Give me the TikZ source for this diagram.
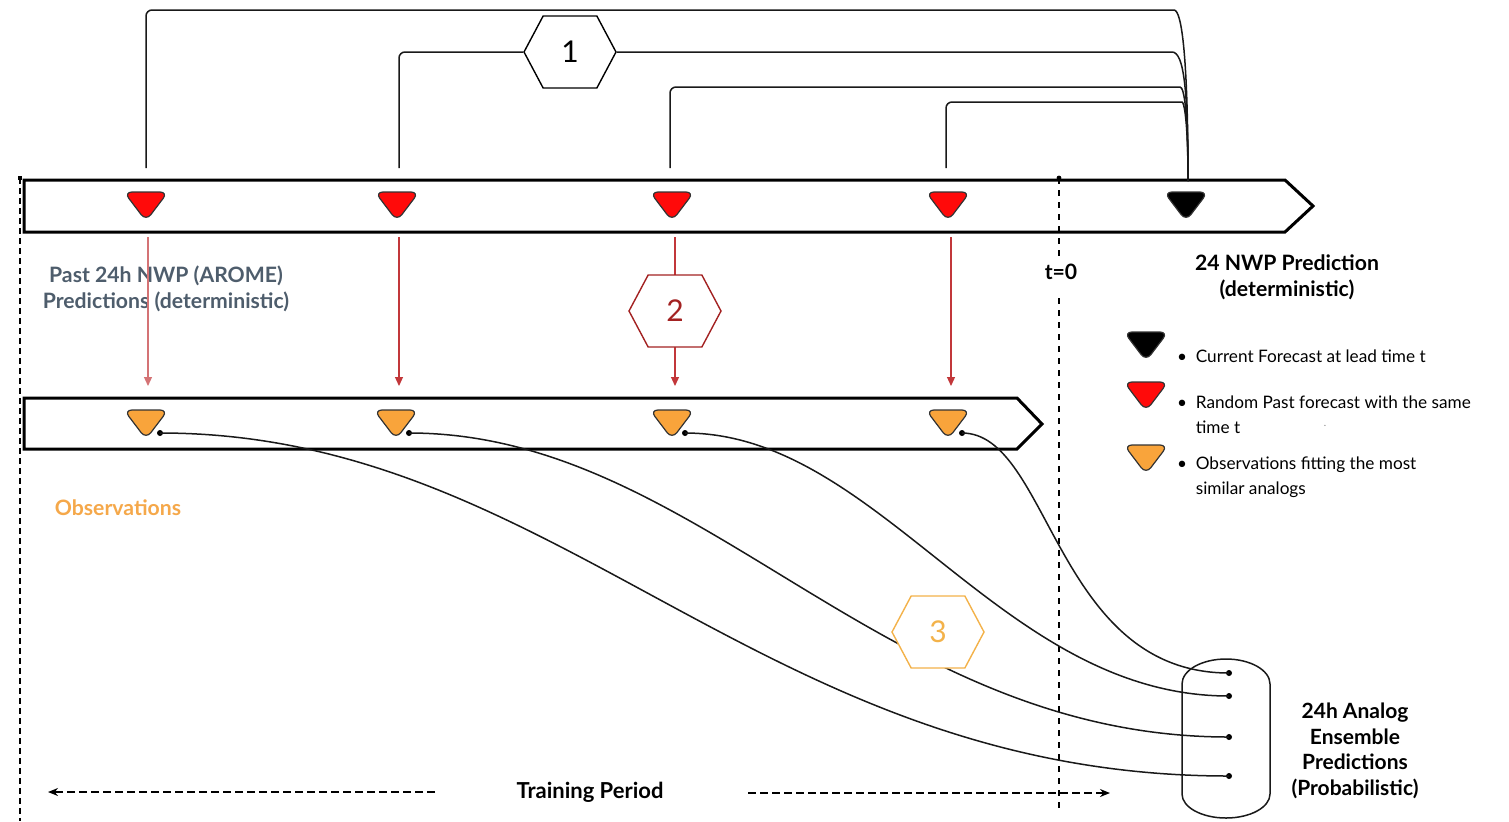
\documentclass[tikz,border=0pt]{standalone}
\usepackage{fontspec}
\setmainfont{Lato}
\usetikzlibrary{shapes.symbols,arrows.meta}
\definecolor{mred}{HTML}{FF0A0A}
\definecolor{morange}{HTML}{F9A43B}
\definecolor{arrred}{HTML}{C2373A}
\definecolor{hexred}{HTML}{A32222}
\definecolor{hexorange}{HTML}{F3B24A}
\definecolor{slate}{HTML}{4E5D6C}
\definecolor{obsorange}{HTML}{F5A84A}
\tikzset{
  pics/tri/.style={code={\draw[line width=0.6pt, rounded corners=4pt, fill=#1, draw=black!80]
      (-22,-14) -- (22,-14) -- (0,15) -- cycle;}},
  band/.style={line width=1.5pt, draw=black},
  conn/.style={line width=0.75pt, draw=black!90},
  redarr/.style={line width=0.6pt, draw=arrred, -{Triangle[width=4pt,length=4.5pt]}},
  hexa/.style={signal, signal to=east and west, signal pointer angle=124,
      minimum width=46pt, minimum height=36pt, inner sep=0pt, fill=white,
      line width=0.7pt, font=\fontsize{15}{15}\selectfont},
  lbl/.style={font=\bfseries\fontsize{10.6}{12.8}\selectfont, align=center},
  leg/.style={font=\fontsize{8.6}{12.5}\selectfont, align=left, anchor=west},
  dotc/.style={circle, fill=black, inner sep=0pt, minimum size=3pt},
  tdash/.style={line width=0.7pt, dash pattern=on 4pt off 2pt},
}
\begin{document}
\begin{tikzpicture}[x=0.5pt,y=-0.5pt]
\useasboundingbox (0,0) rectangle (1509,821);

% left dashed line
\coordinate (lt) at (20,178);
\coordinate (lb) at (20,821);
\draw[tdash, line width=0.75pt, dash pattern=on 3pt off 2pt] (lt) -- (lb);
\fill (18,176) rectangle (22,180);

% NWP band
\draw[band, fill=white] (24,180) -- (1285,180) -- (1313,206) -- (1285,232) -- (24,232) -- cycle;
% Observation band
\draw[band, fill=white] (24,398) -- (1017,398) -- (1042,424) -- (1017,449) -- (24,449) -- cycle;

% t=0 line
\coordinate (t0t) at (1059,178);
\coordinate (t0m) at (1059,256);
\coordinate (t0n) at (1059,298);
\coordinate (t0b) at (1059,808);
\draw[tdash, dash pattern=on 3pt off 3pt] (t0t) -- (t0m);
\draw[tdash, dash pattern=on 3pt off 3pt] (t0n) -- (t0b);
\fill (t0t) circle (1.2pt);

% labels
\node[lbl, text=slate] (pastlbl) at (166,289) {Past 24h NWP (AROME)\\Predictions (deterministic)};
\node[lbl] (t0lbl) at (1061,272) {t=0};
\node[lbl] (nwplbl) at (1287,277) {24 NWP Prediction\\(deterministic)};
\node[lbl, text=obsorange] (obslbl) at (118,508) {Observations};
\node[lbl, font=\bfseries\fontsize{10.5}{12.8}\selectfont] (enslbl) at (1355,751) {24h Analog\\Ensemble\\Predictions\\(Probabilistic)};

% markers on NWP band
\pic at (146,206) {tri=mred};
\pic at (397,206) {tri=mred};
\pic at (672,206) {tri=mred};
\pic at (948,206) {tri=mred};
\pic at (1186,206) {tri=black};
% markers on observations band
\pic at (146,424) {tri=morange};
\pic at (396,424) {tri=morange};
\pic at (672,424) {tri=morange};
\pic at (948,424) {tri=morange};

% red arrows
\coordinate (a1s) at (148,237); \coordinate (a1e) at (148,386);
\coordinate (a2s) at (399,237); \coordinate (a2e) at (399,386);
\coordinate (a3s) at (675,237); \coordinate (a3e) at (675,386);
\coordinate (a4s) at (951,237); \coordinate (a4e) at (951,386);
\draw[redarr, draw=arrred!70] (a1s) -- (a1e);
\draw[redarr] (a2s) -- (a2e);
\draw[redarr] (a3s) -- (a3e);
\draw[redarr] (a4s) -- (a4e);
\node[hexa, draw=hexred, text=hexred] (h2) at (675,311) {2};

% top connectors
\coordinate (bk) at (1188,181);
\coordinate (r1) at (146,168);
\coordinate (r2) at (399,168);
\coordinate (r3) at (670,168);
\coordinate (r4) at (946,168);
\node[hexa, draw=black, text=black] (h1) at (570,52) {1};
\draw[conn, rounded corners=3pt] (r1) |- (1168,10) .. controls (1182,10) and (1188,60) .. (bk);
\draw[conn, rounded corners=3pt] (r2) |- (h1.west);
\draw[conn] (h1.east) -- (1172,52) .. controls (1184,52) and (1188,90) .. (bk);
\draw[conn, rounded corners=3pt] (r3) |- (1174,87) .. controls (1184,87) and (1188,110) .. (bk);
\draw[conn, rounded corners=3pt] (r4) |- (1176,102) .. controls (1184,102) and (1188,120) .. (bk);

% cylinder
\draw[conn] (1182,684) -- (1182,794) arc[start angle=180, end angle=360, x radius=22pt, y radius=12pt]
   -- (1270,794) -- (1270,684) arc[start angle=0, end angle=180, x radius=22pt, y radius=12.5pt] -- cycle;
\node[dotc] (c1) at (1229,673) {};
\node[dotc] (c2) at (1229,696) {};
\node[dotc] (c3) at (1229,737) {};
\node[dotc] (c4) at (1229,776) {};

% observation dots and curves
\node[dotc] (o1) at (160,433) {};
\node[dotc] (o2) at (409,433) {};
\node[dotc] (o3) at (685,433) {};
\node[dotc] (o4) at (962,433) {};
\draw[conn] (o1.center) .. controls (560,433) and (760,776) .. (c4.center);
\draw[conn] (o2.center) .. controls (700,433) and (880,737) .. (c3.center);
\draw[conn] (o3.center) .. controls (880,433) and (1000,696) .. (c2.center);
\draw[conn] (o4.center) .. controls (1050,433) and (1055,673) .. (c1.center);
\node[hexa, draw=hexorange, text=hexorange] (h3) at (938,632) {3};

% legend
\pic at (1146,346) {tri=black};
\pic at (1146,396) {tri=mred};
\pic at (1146,459) {tri=morange};
\node[leg] (l1) at (1170,356) {\textbullet\ \ Current Forecast at lead time t};
\node[leg] (l2) at (1170,415) {\textbullet\ \ Random Past forecast with the same\\\phantom{\textbullet\ \ }time t};
\node[leg] (l3) at (1170,477) {\textbullet\ \ Observations fitting the most\\\phantom{\textbullet\ \ }similar analogs};
\node[font=\tiny, text=black!50] (stray) at (1325,426) {.};

% training period
\node[lbl, font=\bfseries\fontsize{11}{13}\selectfont] (tp) at (590,792) {Training Period};
\coordinate (tl1) at (435,792); \coordinate (tl2) at (48,792);
\coordinate (tr1) at (748,793); \coordinate (tr2) at (1110,793);
\draw[tdash, -{Stealth[length=5pt,width=4pt]}] (tl1) -- (tl2);
\draw[tdash, -{Stealth[length=5pt,width=4pt]}] (tr1) -- (tr2);
\end{tikzpicture}
\end{document}
